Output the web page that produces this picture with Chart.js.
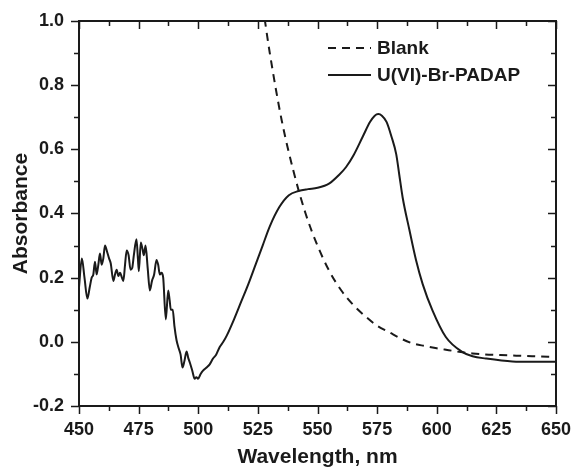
<!DOCTYPE html>
<html>
<head>
<meta charset="utf-8">
<script src="https://cdn.jsdelivr.net/npm/chart.js@4/dist/chart.umd.min.js"></script>
<style>
  html, body { margin: 0; padding: 0; background: #fff; }
</style>
</head>
<body>
<canvas id="absChart" width="573" height="468"></canvas>
<script>
// values
const seriesNames = ['Blank', 'U(VI)-Br-PADAP'];

const blankWavelength = [527, 530, 535, 540, 545, 550, 555, 560, 565, 570, 575, 580, 585, 590, 595, 600, 605, 610, 615, 620, 630, 640, 650];
const blankAbsorbance = [1.05, 0.90, 0.69, 0.53, 0.40, 0.30, 0.22, 0.16, 0.115, 0.08, 0.05, 0.03, 0.01, -0.005, -0.013, -0.02, -0.026, -0.032, -0.036, -0.039, -0.042, -0.045, -0.047];

const complexWavelength = [
  450.0, 451.2, 452.3, 453.5, 454.5, 455.3, 456.0, 456.7, 457.4, 458.1,
  458.8, 459.5, 460.2, 460.9, 461.8, 462.6, 463.3, 464.4, 465.1, 465.8,
  466.5, 467.2, 468.0, 468.6, 469.3, 470.0, 470.8, 471.6, 472.3, 473.0,
  474.1, 474.7, 475.1, 475.9, 476.6, 477.2, 477.9, 478.8, 479.7, 480.6,
  481.5, 482.5, 483.2, 483.9, 484.6, 485.3, 486.4, 487.4, 488.0, 488.5,
  489.3, 490.0, 490.9, 491.8, 492.6, 493.4, 494.2, 495.1, 495.8, 496.5,
  497.5, 498.5, 499.2, 499.9, 501.0, 502.0, 503.5, 504.8, 506.2, 507.5,
  509.0, 510.5, 512, 515, 518, 521, 524, 527, 530, 534,
  538, 542, 546, 550, 555, 559, 562, 565, 569, 572,
  574, 575.5, 577, 579, 581, 583, 584.3, 585.7, 588.5, 591.3,
  594.1, 598.2, 603.8, 610.8, 615, 620.6, 631.7, 640, 650
];
const complexAbsorbance = [
  0.17, 0.26, 0.20, 0.135, 0.17, 0.20, 0.21, 0.25, 0.21, 0.24,
  0.275, 0.24, 0.26, 0.30, 0.28, 0.26, 0.245, 0.19, 0.21, 0.225,
  0.205, 0.215, 0.20, 0.19, 0.24, 0.285, 0.27, 0.225, 0.23, 0.27,
  0.32, 0.26, 0.22, 0.31, 0.29, 0.27, 0.30, 0.23, 0.16, 0.19,
  0.21, 0.255, 0.24, 0.21, 0.215, 0.20, 0.07, 0.16, 0.13, 0.10,
  0.10, 0.05, 0.005, -0.02, -0.04, -0.08, -0.06, -0.03, -0.05, -0.065,
  -0.09, -0.115, -0.11, -0.115, -0.10, -0.09, -0.08, -0.07, -0.052, -0.04,
  -0.016, 0.0, 0.02, 0.07, 0.125, 0.18, 0.24, 0.30, 0.36, 0.42,
  0.457, 0.47, 0.476, 0.48, 0.494, 0.52, 0.545, 0.58, 0.64, 0.685,
  0.705, 0.71, 0.705, 0.685, 0.64, 0.585, 0.52, 0.45, 0.35, 0.255,
  0.18, 0.098, 0.015, -0.032, -0.045, -0.052, -0.061, -0.062, -0.062
];

const ink = '#1a1a1a';
const fam = '"Liberation Sans", Arial, sans-serif';
Chart.defaults.font.family = fam;
Chart.defaults.color = ink;

const toPoints = (xs, ys) => xs.map((x, i) => ({ x: x, y: ys[i] }));

// box around the plot, ticks on all four sides, and the legend inside
const framePlugin = {
  id: 'frame',
  afterDraw(chart) {
    const { ctx, chartArea: a, scales: { x, y } } = chart;
    ctx.save();
    ctx.strokeStyle = ink;
    ctx.lineWidth = 1.5;
    ctx.beginPath();
    const xStep = 12.5;
    for (let i = 0, v = x.min; v <= x.max + 1e-6; i++, v = x.min + i * xStep) {
      const px = Math.round(x.getPixelForValue(v)) + 0.5;
      const len = i % 2 === 0 ? 8 : 5;
      ctx.moveTo(px, a.bottom); ctx.lineTo(px, a.bottom + len);
      ctx.moveTo(px, a.top); ctx.lineTo(px, a.top + len);
    }
    const yStep = 0.1;
    for (let i = 0, v = y.min; v <= y.max + 1e-6; i++, v = y.min + i * yStep) {
      const py = Math.round(y.getPixelForValue(v)) + 0.5;
      const len = i % 2 === 0 ? 8 : 5;
      ctx.moveTo(a.left, py); ctx.lineTo(a.left - len, py);
      ctx.moveTo(a.right, py); ctx.lineTo(a.right - len, py);
    }
    ctx.stroke();

    ctx.lineWidth = 2;
    ctx.strokeRect(a.left, a.top, a.right - a.left, a.bottom - a.top);

    // legend
    const rows = [48, 75];
    chart.data.datasets.forEach((ds, i) => {
      ctx.beginPath();
      ctx.lineWidth = ds.borderWidth;
      ctx.setLineDash(ds.borderDash || []);
      ctx.moveTo(328, rows[i]);
      ctx.lineTo(371, rows[i]);
      ctx.stroke();
      ctx.setLineDash([]);
      ctx.fillStyle = ink;
      ctx.font = 'bold 19px ' + fam;
      ctx.textAlign = 'left';
      ctx.textBaseline = 'middle';
      ctx.fillText(ds.label, 377, rows[i] + 1);
    });
    ctx.restore();
  }
};

new Chart(document.getElementById('absChart'), {
  type: 'line',
  data: {
    datasets: [
      {
        label: seriesNames[0],
        data: toPoints(blankWavelength, blankAbsorbance),
        borderColor: ink,
        borderWidth: 2,
        borderDash: [8, 6],
        pointRadius: 0,
        cubicInterpolationMode: 'monotone',
        clip: 0,
      },
      {
        label: seriesNames[1],
        data: toPoints(complexWavelength, complexAbsorbance),
        borderColor: ink,
        borderWidth: 2,
        pointRadius: 0,
        cubicInterpolationMode: 'monotone',
        clip: 0,
      },
    ],
  },
  options: {
    responsive: false,
    animation: false,
    devicePixelRatio: 1,
    layout: { padding: { left: 0, right: 17, top: 21, bottom: 0 } },
    plugins: {
      legend: { display: false },
      tooltip: { enabled: false },
    },
    scales: {
      x: {
        type: 'linear',
        min: 450,
        max: 650,
        grid: { display: false, drawTicks: false },
        border: { display: false },
        ticks: {
          stepSize: 25,
          padding: 13,
          font: { size: 18, weight: 'bold' },
          maxRotation: 0,
        },
        title: {
          display: true,
          text: 'Wavelength, nm',
          font: { size: 21, weight: 'bold', lineHeight: 1 },
          padding: { top: 0, bottom: 0 },
        },
        afterFit(scale) {
          scale.height = 62;
          scale.paddingLeft = 0;
          scale.paddingRight = 0;
        },
      },
      y: {
        min: -0.2,
        max: 1.0,
        grid: { display: false, drawTicks: false },
        border: { display: false },
        ticks: {
          stepSize: 0.2,
          padding: 15,
          font: { size: 18, weight: 'bold' },
          callback: (v) => (Math.abs(v) < 1e-9 ? '0.0' : v.toFixed(1)),
        },
        title: {
          display: true,
          text: 'Absorbance',
          font: { size: 21, weight: 'bold', lineHeight: 1 },
          padding: { top: 10.5, bottom: 0 },
        },
        afterFit(scale) {
          scale.width = 79;
          scale.paddingTop = 0;
          scale.paddingBottom = 0;
        },
      },
    },
  },
  plugins: [framePlugin],
});
</script>
</body>
</html>
